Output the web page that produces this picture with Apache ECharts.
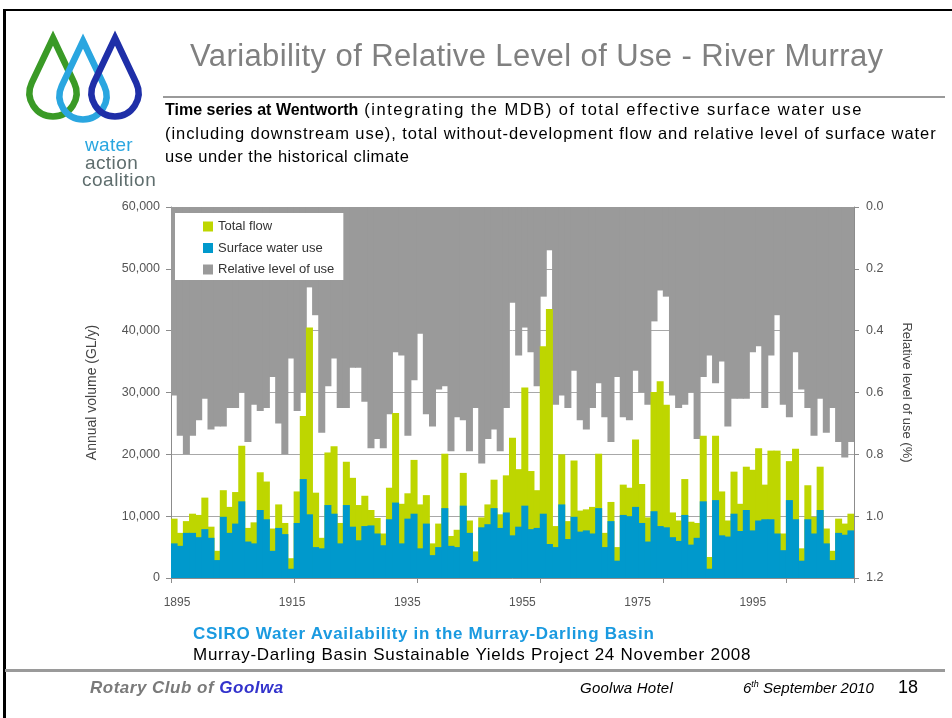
<!DOCTYPE html>
<html><head><meta charset="utf-8">
<script src="https://cdn.jsdelivr.net/npm/echarts@6/dist/echarts.min.js"></script>
<style>
html,body{margin:0;padding:0;background:#fff;}
body{width:952px;height:718px;position:relative;overflow:hidden;font-family:"Liberation Sans",Arial,sans-serif;}
#chart{position:absolute;left:0;top:0;width:952px;height:718px;z-index:1;}
.abs{position:absolute;white-space:nowrap;z-index:2;}
</style></head><body>
<div class="abs" style="left:3px;top:9px;width:3px;height:709px;background:#000"></div>
<div class="abs" style="left:3px;top:9px;width:949px;height:2px;background:#000"></div>

<svg class="abs" style="left:0;top:0" width="160" height="200" viewBox="0 0 160 200">
  <path id="d1" d="" fill="none" stroke="#3a9a26" stroke-width="6.5"/>
  <path id="d2" d="" fill="none" stroke="#2aa6e0" stroke-width="6.5"/>
  <path id="d3" d="" fill="none" stroke="#1f2fa8" stroke-width="6.5"/>
</svg>
<div class="abs" style="left:85px;top:134px;font-size:19px;line-height:22px;color:#2aa6e0;letter-spacing:0.3px">water</div>
<div class="abs" style="left:85px;top:152px;font-size:19px;line-height:22px;color:#5f6e6e;letter-spacing:0.4px">action</div>
<div class="abs" style="left:82px;top:169px;font-size:19px;line-height:22px;color:#5f6e6e;letter-spacing:0.5px">coalition</div>

<div class="abs" style="left:190px;top:40px;font-size:31px;line-height:31px;color:#808080;letter-spacing:0.4px">Variability of Relative Level of Use - River Murray</div>
<div class="abs" style="left:163px;top:96px;width:782px;height:2px;background:#9a9a9a"></div>
<div class="abs" style="left:165px;top:98px;font-size:16px;line-height:23.5px;color:#000"><b>Time series at Wentworth</b><span style="font-size:16.5px;letter-spacing:1.5px"> (integrating the MDB) of total effective surface water use</span><br><span style="font-size:16.5px;letter-spacing:0.94px">(including downstream use), total without-development flow and relative level of surface water</span><br><span style="font-size:16.5px;letter-spacing:0.53px">use under the historical climate</span></div>

<div class="abs" style="left:193px;top:624px;font-size:17px;line-height:19px;color:#1a9ae0;font-weight:bold;letter-spacing:0.7px">CSIRO Water Availability in the Murray-Darling Basin</div>
<div class="abs" style="left:193px;top:645px;font-size:17px;line-height:19px;color:#000;letter-spacing:0.75px">Murray-Darling Basin Sustainable Yields Project 24 November 2008</div>
<div class="abs" style="left:5px;top:669px;width:940px;height:3px;background:#9a9a9a"></div>
<div class="abs" style="left:90px;top:678px;font-size:17px;line-height:20px;color:#7a7a7a;font-weight:bold;font-style:italic;letter-spacing:0.5px">Rotary Club of <span style="color:#3333cc">Goolwa</span></div>
<div class="abs" style="left:580px;top:679px;font-size:15px;line-height:18px;color:#000;font-style:italic;letter-spacing:0.25px">Goolwa Hotel</div>
<div class="abs" style="left:743px;top:679px;font-size:15px;line-height:18px;color:#000;font-style:italic">6<sup style="font-size:9px;vertical-align:6px;line-height:0">th</sup> September 2010</div>
<div class="abs" style="left:898px;top:677px;font-size:18px;line-height:20px;color:#000">18</div>

<div id="chart"></div>
<script>
// ---- data ----
const years = ['1895','1896','1897','1898','1899','1900','1901','1902','1903','1904','1905','1906','1907','1908','1909','1910','1911','1912','1913','1914','1915','1916','1917','1918','1919','1920','1921','1922','1923','1924','1925','1926','1927','1928','1929','1930','1931','1932','1933','1934','1935','1936','1937','1938','1939','1940','1941','1942','1943','1944','1945','1946','1947','1948','1949','1950','1951','1952','1953','1954','1955','1956','1957','1958','1959','1960','1961','1962','1963','1964','1965','1966','1967','1968','1969','1970','1971','1972','1973','1974','1975','1976','1977','1978','1979','1980','1981','1982','1983','1984','1985','1986','1987','1988','1989','1990','1991','1992','1993','1994','1995','1996','1997','1998','1999','2000','2001','2002','2003','2004','2005'];
const tickYears = [1895, 1915, 1935, 1955, 1975, 1995];
const totalFlow = [9600,7300,9200,10400,10200,13000,8300,4400,14200,11500,13900,21400,8100,9000,17100,15600,8000,11900,8900,3200,14000,26200,40500,13800,6500,20300,21300,8900,18800,16200,11800,13300,11000,9700,7200,14600,26700,12000,13700,19100,11900,13400,5600,8800,20100,6800,7800,17000,9300,4300,9800,11900,15900,10300,16600,22700,17600,30800,17300,14200,37500,43500,8400,20000,9200,19000,10900,11100,11500,20100,7300,12300,5000,15100,14600,22400,15200,9800,30100,31800,28000,10600,9300,16000,9100,8900,23000,3400,23000,14000,9300,17200,12000,18000,17500,21000,15100,20600,20600,7200,18900,20900,4800,15000,9900,18000,8000,4400,9600,8800,10400];
const surfaceUse = [5600,5200,7300,7300,6600,7900,6500,2900,9900,7300,8800,12400,5900,5600,11000,9500,4400,8100,7100,1500,8900,16000,10300,5000,4800,11800,10400,5600,11800,8300,6100,8400,8500,7200,5300,9500,12200,5600,9600,10400,4800,8800,3700,5000,11300,5200,5000,11700,7300,2700,8200,8700,11300,8100,10600,6900,8300,11700,7900,8100,10400,5500,5000,11900,6300,9900,7500,7700,7200,11300,5000,9200,2800,10200,10000,11500,8900,5900,10800,8400,8200,6600,6000,10200,5400,6500,12400,1500,12600,6900,6700,10400,7600,11000,7700,9300,9500,9500,7200,4500,12600,9500,2800,9500,7200,11000,5600,2900,7300,7000,7700];
const relativeLevel = [0.61,0.74,0.80,0.74,0.69,0.62,0.72,0.71,0.71,0.65,0.65,0.60,0.76,0.64,0.66,0.65,0.55,0.70,0.80,0.49,0.66,0.60,0.26,0.35,0.73,0.58,0.49,0.65,0.65,0.52,0.52,0.63,0.78,0.75,0.78,0.67,0.47,0.48,0.74,0.56,0.41,0.67,0.71,0.59,0.58,0.79,0.68,0.69,0.79,0.65,0.83,0.75,0.72,0.79,0.65,0.31,0.48,0.39,0.47,0.58,0.29,0.14,0.64,0.61,0.65,0.53,0.69,0.72,0.65,0.57,0.68,0.76,0.55,0.68,0.69,0.53,0.60,0.64,0.37,0.27,0.29,0.61,0.65,0.64,0.60,0.75,0.55,0.48,0.57,0.50,0.71,0.62,0.62,0.62,0.47,0.45,0.65,0.48,0.35,0.64,0.68,0.47,0.59,0.65,0.74,0.62,0.73,0.65,0.76,0.81,0.76];
const volumeTicks = {min: 0, max: 60000, interval: 10000};
const relTicks = {min: 0, max: 1.2, interval: 0.2};

// ---- logo drops ----
function dropPath(cx, cy, r, tipY) {
  const d = cy - tipY;
  const a = Math.acos(r / d);
  const tx = r * Math.sin(a), ty = r * Math.cos(a);
  return `M${cx} ${tipY} L${cx + tx} ${cy - ty} A${r} ${r} 0 1 1 ${cx - tx} ${cy - ty} Z`;
}
document.getElementById('d1').setAttribute('d', dropPath(53, 93, 23.5, 38));
document.getElementById('d2').setAttribute('d', dropPath(83, 96, 23.5, 41));
document.getElementById('d3').setAttribute('d', dropPath(115, 93, 23.5, 38));

// ---- chart ----
const chart = echarts.init(document.getElementById('chart'), null, {renderer: 'canvas'});
const axisGrey = '#8c8c8c';
const GREEN = '#bed600', BLUE = '#0099cc', GREY = '#9a9a9a';
const barCommon = {type: 'bar', xAxisIndex: 0, barWidth: '114%', barGap: '-100%', barCategoryGap: '0%'};
chart.setOption({
  animation: false,
  textStyle: {fontFamily: 'Liberation Sans'},
  grid: {left: 171, top: 207, width: 683, height: 371, containLabel: false},
  legend: {
    left: 175, top: 213, orient: 'vertical', selectedMode: false,
    data: ['Total flow', 'Surface water use', 'Relative level of use'],
    backgroundColor: '#fff', padding: [7, 9, 4, 28],
    itemWidth: 10, itemHeight: 10, itemGap: 8.5, icon: 'rect',
    textStyle: {fontSize: 13, color: '#333', lineHeight: 12}
  },
  xAxis: [
    {type: 'category', data: years, position: 'bottom', boundaryGap: true,
      axisLine: {show: true, lineStyle: {color: axisGrey}},
      axisTick: {show: true, interval: 19, length: 5, lineStyle: {color: axisGrey}},
      axisLabel: {show: false}, splitLine: {show: false}},
    {type: 'value', position: 'bottom', min: 1893.958, max: 2012.59,
      axisLine: {show: false}, axisTick: {show: false}, splitLine: {show: false},
      axisLabel: {customValues: tickYears, margin: 19, color: '#555', fontSize: 12,
        formatter: v => String(Math.round(v))}},
    {type: 'category', data: years, position: 'top',
      axisLine: {show: true, lineStyle: {color: '#222'}}, axisTick: {show: false},
      axisLabel: {show: false}, splitLine: {show: false}}
  ],
  yAxis: [
    {type: 'value', position: 'left', min: volumeTicks.min, max: volumeTicks.max, interval: volumeTicks.interval,
      name: 'Annual volume (GL/y)', nameLocation: 'middle', nameGap: 72,
      nameTextStyle: {color: '#444', fontSize: 14},
      axisLine: {show: true, lineStyle: {color: axisGrey}},
      axisTick: {show: true, length: 5, lineStyle: {color: axisGrey}},
      axisLabel: {margin: 11, color: '#555', fontSize: 12.5, formatter: v => v.toLocaleString('en-US')},
      splitLine: {show: true, lineStyle: {color: '#a8a8a8', width: 1}}},
    {type: 'value', position: 'right', min: relTicks.min, max: relTicks.max, interval: relTicks.interval, inverse: true,
      name: 'Relative level of use (%)', nameLocation: 'middle', nameGap: 46, nameRotate: -90,
      nameTextStyle: {color: '#444', fontSize: 13},
      axisLine: {show: true, lineStyle: {color: axisGrey}},
      axisTick: {show: true, length: 5, lineStyle: {color: axisGrey}},
      axisLabel: {margin: 12, color: '#555', fontSize: 12.5, formatter: v => v.toFixed(1)},
      splitLine: {show: false}}
  ],
  series: [
    Object.assign({name: 'Relative level of use', yAxisIndex: 1, data: relativeLevel, itemStyle: {color: GREY}}, barCommon),
    Object.assign({name: 'Total flow', yAxisIndex: 0, data: totalFlow, itemStyle: {color: GREEN}}, barCommon),
    Object.assign({name: 'Surface water use', yAxisIndex: 0, data: surfaceUse, itemStyle: {color: BLUE}}, barCommon)
  ]
});
</script>
</body></html>
